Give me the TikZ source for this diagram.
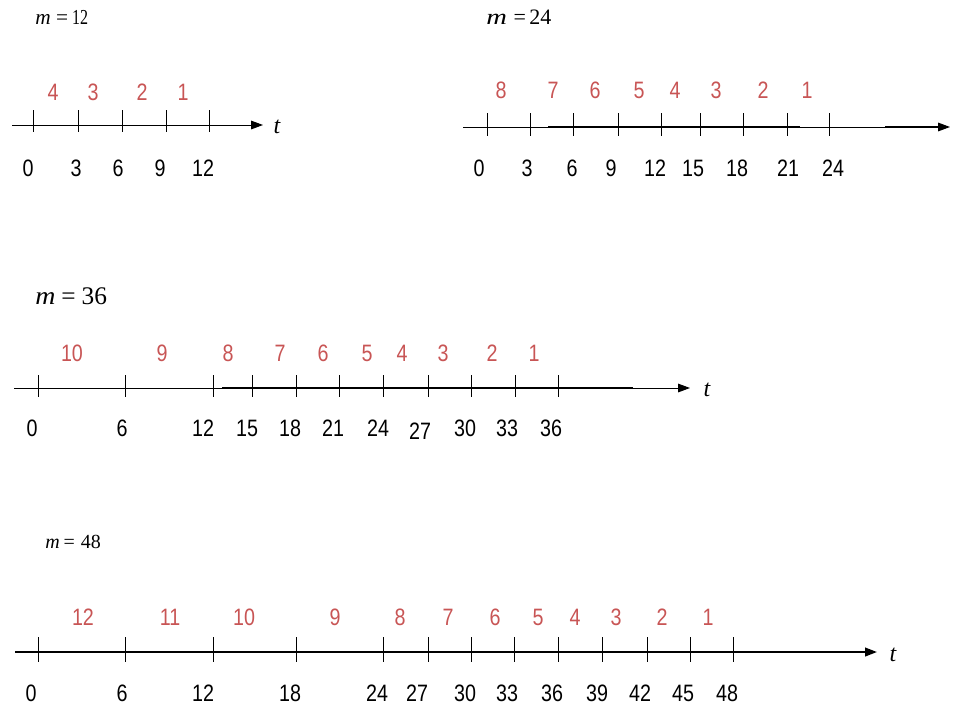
\documentclass[tikz,border=0pt]{standalone}
\usepackage{fontspec}
\setmainfont{Liberation Sans}
\newfontfamily\numfont[FakeStretch=0.83]{Liberation Sans}
\newfontfamily\timesfont{Liberation Serif}
\usetikzlibrary{arrows.meta}
\definecolor{lblred}{RGB}{200,85,85}

\tikzset{
  numlbl/.style={font=\numfont\fontsize{17.8}{19}\selectfont,inner sep=0pt},
  redlbl/.style={numlbl,text=lblred},
  mlbl/.style={font=\timesfont\fontsize{16}{18}\selectfont,inner sep=0pt,anchor=west},
  tlbl/.style={font=\timesfont\itshape\fontsize{18}{20}\selectfont,inner sep=0pt},
  axisline/.style={-{Triangle[length=9pt,width=6.5pt]},line width=0.75pt},
  tickmark/.style={line width=0.75pt}
}

\begin{document}
\begin{tikzpicture}[x=0.75pt,y=-0.75pt]
  \useasboundingbox (0,0) rectangle (966,708);

  % m = 12
  \node[mlbl] (m12) at (35,17)
    {\textit{m}\hspace{4pt}=\hspace{3pt}\scalebox{0.75}[1]{12}};
  \coordinate (p1s) at (12,125);
  \coordinate (p1e) at (263,125);
  \draw[axisline] (p1s) -- (p1e);
  \node[tlbl] (t1) at (277,127) {t};
  \foreach \x in {33,78,122,166,209}
    \draw[tickmark] (\x,110) -- (\x,132);
  \foreach \x/\l in {53/4,93/3,142/2,183/1}
    \node[redlbl] (r1-\l) at (\x,92) {\l};
  \foreach \x/\l in {28/0,76/3,118/6,160/9,203/12}
    \node[numlbl] (n1-\l) at (\x,168) {\l};

  % m = 24
  \node[mlbl,font=\timesfont\fontsize{16.5}{18}\selectfont] (m24) at (486,17)
    {\scalebox{1.3}[1]{\textit{m}}\hspace{5pt}=\hspace{2.5pt}24};
  \coordinate (p2s) at (463,127);
  \coordinate (p2e) at (950,127);
  \draw[axisline] (p2s) -- (p2e);
  \draw[line width=1.3pt] (548,127) -- (800,127);
  \draw[line width=1.3pt] (885,127) -- (940,127);
  \node[tlbl] (t2) at (970,129) {t};
  \foreach \x in {487,530,573,618,661,700,743,787,829}
    \draw[tickmark] (\x,113) -- (\x,136);
  \foreach \x/\l in {501/8,553/7,595/6,639/5,675/4,716/3,763/2,807/1}
    \node[redlbl] (r2-\l) at (\x,90) {\l};
  \foreach \x/\l in {479/0,527/3,572/6,611/9,655/12,693/15,737/18,788/21,833/24}
    \node[numlbl] (n2-\l) at (\x,168) {\l};

  % m = 36
  \node[mlbl,font=\timesfont\fontsize{19}{21}\selectfont] (m36) at (35,296)
    {\scalebox{1.1}[1]{\textit{m}}\hspace{4.5pt}=\hspace{4.5pt}36};
  \coordinate (p3s) at (14,388);
  \coordinate (p3e) at (690,388);
  \draw[axisline] (p3s) -- (p3e);
  \draw[line width=1.3pt] (222,388) -- (633,388);
  \node[tlbl] (t3) at (707,390) {t};
  \foreach \x in {38,125,213,252,296,339,383,428,471,515,558}
    \draw[tickmark] (\x,375) -- (\x,397);
  \foreach \x/\l in {72/10,162/9,228/8,280/7,323/6,367/5,402/4,443/3,492/2,534/1}
    \node[redlbl] (r3-\l) at (\x,353) {\l};
  \foreach \x/\l in {32/0,122/6,203/12,247/15,290/18,333/21,378/24,465/30,507/33,551/36}
    \node[numlbl] (n3-\l) at (\x,428) {\l};
  \node[numlbl] (n3-27) at (420,431) {27};

  % m = 48
  \node[mlbl,font=\timesfont\fontsize{15}{17}\selectfont] (m48) at (45,542)
    {\textit{m}\hspace{3pt}=\hspace{4.5pt}48};
  \coordinate (p4s) at (15,652);
  \coordinate (p4e) at (877,652);
  \draw[axisline,line width=1.5pt] (p4s) -- (p4e);
  \node[tlbl] (t4) at (893,655) {t};
  \foreach \x in {38,125,213,296,383,428,471,514,558,602,647,690,733}
    \draw[tickmark] (\x,637) -- (\x,662);
  \foreach \x/\l in {83/12,170/11,244/10,335/9,400/8,448/7,495/6,538/5,575/4,616/3,662/2,708/1}
    \node[redlbl] (r4-\l) at (\x,617) {\l};
  \foreach \x/\l in {31/0,122/6,203/12,290/18,377/24,417/27,465/30,507/33,552/36,597/39,640/42,683/45,727/48}
    \node[numlbl] (n4-\l) at (\x,693) {\l};
\end{tikzpicture}
\end{document}
